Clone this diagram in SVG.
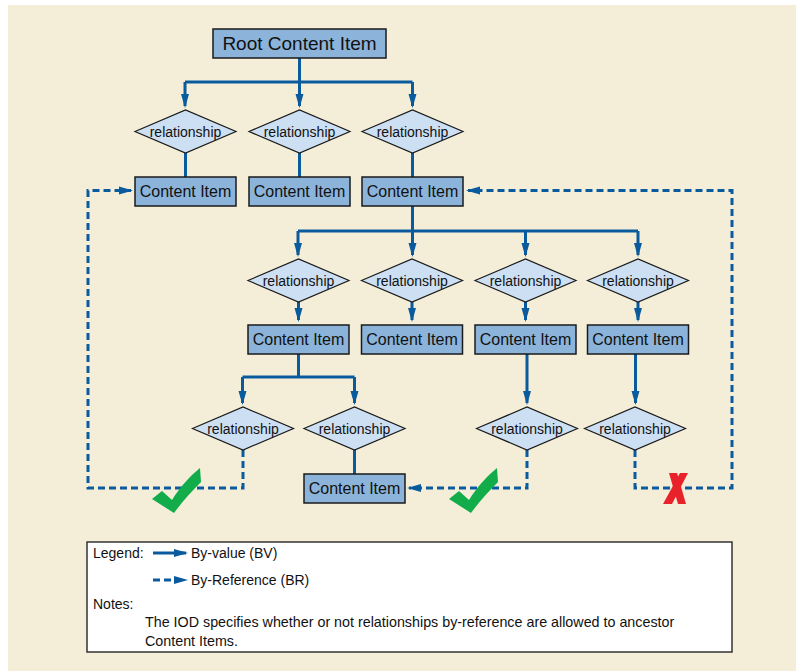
<svg xmlns="http://www.w3.org/2000/svg" width="796" height="671" viewBox="0 0 796 671">
<defs>
<style>
.bg{fill:#f4eed8}
.box{fill:#8cb4da;stroke:#1a1a1a;stroke-width:1.5}
.dia{fill:#cddff2;stroke:#1a1a1a;stroke-width:1.2}
.t{font-family:"Liberation Sans",Arial,sans-serif;fill:#111;text-anchor:middle}
.ci{font-size:16px}
.rel{font-size:14px}
.root{font-size:19px}
.lg{font-family:"Liberation Sans",Arial,sans-serif;fill:#111;font-size:14px}
.sol{fill:none;stroke:#0a5b9d;stroke-width:3}
.sola{fill:none;stroke:#0a5b9d;stroke-width:3;marker-end:url(#ah)}
.dsh{fill:none;stroke:#0a5b9d;stroke-width:3;stroke-dasharray:7 4;marker-end:url(#ah)}
.chk{fill:#12ad4a}
.xm{fill:#e8212a}
</style>
<marker id="ah" markerWidth="16" markerHeight="10" refX="12" refY="5" orient="auto" markerUnits="userSpaceOnUse">
<path d="M0,1 L14,5 L0,9 Z" fill="#0a5b9d"/>
</marker>
</defs>
<rect class="bg" x="8" y="5" width="788" height="666"/>

<g id="connectors">
<path class="sol" d="M299.5,58 V82 M185,82 H412.5"/>
<path class="sola" d="M185,82 V106"/>
<path class="sola" d="M299.5,82 V106"/>
<path class="sola" d="M412.5,82 V106"/>
<path class="sol" d="M185.5,153 V177 M299.5,153 V177 M412.5,153 V177"/>
<path class="sol" d="M412.5,206 V231 M298,231 H638"/>
<path class="sola" d="M298,231 V255"/>
<path class="sola" d="M412.5,231 V255"/>
<path class="sola" d="M525.5,231 V255"/>
<path class="sola" d="M638,231 V255"/>
<path class="sola" d="M298.5,302 V320"/>
<path class="sola" d="M412,302 V320"/>
<path class="sola" d="M525.5,302 V320"/>
<path class="sola" d="M638,302 V320"/>
<path class="sol" d="M298.5,354 V377 M242.5,377 H354.5"/>
<path class="sola" d="M242.5,377 V403"/>
<path class="sola" d="M354.5,377 V403"/>
<path class="sola" d="M527,354 V403"/>
<path class="sola" d="M635.5,354 V403"/>
<path class="sol" d="M354.5,450 V474"/>
<path class="dsh" d="M243,450 V488 H88 V190.5 H131"/>
<path class="dsh" d="M527,450 V488 H409"/>
<path class="dsh" d="M635,450 V488 H732 V190.5 H468"/>
</g>

<g id="root"><rect class="box" x="213" y="29" width="173" height="29"/><text class="t root" x="299.5" y="50">Root Content Item</text></g>

<g id="rel1a"><polygon class="dia" points="135,131.5 185.5,110 236,131.5 185.5,153"/><text class="t rel" x="185.5" y="136.5">relationship</text></g>
<g id="rel1b"><polygon class="dia" points="249,131.5 299.5,110 350,131.5 299.5,153"/><text class="t rel" x="299.5" y="136.5">relationship</text></g>
<g id="rel1c"><polygon class="dia" points="362,131.5 412.5,110 463,131.5 412.5,153"/><text class="t rel" x="412.5" y="136.5">relationship</text></g>

<g id="ci1a"><rect class="box" x="135" y="177" width="101" height="29"/><text class="t ci" x="185.5" y="197">Content Item</text></g>
<g id="ci1b"><rect class="box" x="249" y="177" width="101" height="29"/><text class="t ci" x="299.5" y="197">Content Item</text></g>
<g id="ci1c"><rect class="box" x="362" y="177" width="101" height="29"/><text class="t ci" x="412.5" y="197">Content Item</text></g>

<g id="rel2a"><polygon class="dia" points="248,280.5 298.5,259 349,280.5 298.5,302"/><text class="t rel" x="298.5" y="285.5">relationship</text></g>
<g id="rel2b"><polygon class="dia" points="361.5,280.5 412,259 462.5,280.5 412,302"/><text class="t rel" x="412" y="285.5">relationship</text></g>
<g id="rel2c"><polygon class="dia" points="475,280.5 525.5,259 576,280.5 525.5,302"/><text class="t rel" x="525.5" y="285.5">relationship</text></g>
<g id="rel2d"><polygon class="dia" points="587.5,280.5 638,259 688.5,280.5 638,302"/><text class="t rel" x="638" y="285.5">relationship</text></g>

<g id="ci2a"><rect class="box" x="248" y="325" width="101" height="29"/><text class="t ci" x="298.5" y="345">Content Item</text></g>
<g id="ci2b"><rect class="box" x="361.5" y="325" width="101" height="29"/><text class="t ci" x="412" y="345">Content Item</text></g>
<g id="ci2c"><rect class="box" x="475" y="325" width="101" height="29"/><text class="t ci" x="525.5" y="345">Content Item</text></g>
<g id="ci2d"><rect class="box" x="587.5" y="325" width="101" height="29"/><text class="t ci" x="638" y="345">Content Item</text></g>

<g id="rel3a"><polygon class="dia" points="192.5,428.5 243,407 293.5,428.5 243,450"/><text class="t rel" x="243" y="433.5">relationship</text></g>
<g id="rel3b"><polygon class="dia" points="304,428.5 354.5,407 405,428.5 354.5,450"/><text class="t rel" x="354.5" y="433.5">relationship</text></g>
<g id="rel3c"><polygon class="dia" points="476.5,428.5 527,407 577.5,428.5 527,450"/><text class="t rel" x="527" y="433.5">relationship</text></g>
<g id="rel3d"><polygon class="dia" points="584.5,428.5 635,407 685.5,428.5 635,450"/><text class="t rel" x="635" y="433.5">relationship</text></g>

<g id="ci3"><rect class="box" x="304" y="474" width="101" height="29"/><text class="t ci" x="354.5" y="494">Content Item</text></g>

<g id="check1"><path class="chk" d="M152,499 L162,491 L172,500 C180,487 190,476 200,468 L201,482 C192,491 182,502 174,513 Z"/></g>
<g id="check2"><path class="chk" transform="translate(297,0)" d="M152,499 L162,491 L172,500 C180,487 190,476 200,468 L201,482 C192,491 182,502 174,513 Z"/></g>
<g id="cross">
<polygon class="xm" points="669,473 677,473 686,504 678,504"/>
<polygon class="xm" points="680,473 688,473 672,504 663,504"/>
</g>

<g id="legend">
<rect x="87" y="542" width="645" height="110" fill="#fff" stroke="#333" stroke-width="1.5"/>
<text class="lg" x="93" y="558">Legend:</text>
<path class="sola" d="M153,553 H186"/>
<text class="lg" x="191" y="558">By-value (BV)</text>
<path class="dsh" d="M153,580 H186"/>
<text class="lg" x="191" y="585">By-Reference (BR)</text>
<text class="lg" x="93" y="609">Notes:</text>
<text class="lg" x="145" y="627" style="font-size:14.3px">The IOD specifies whether or not relationships by-reference are allowed to ancestor</text>
<text class="lg" x="145" y="646" style="font-size:14.3px">Content Items.</text>
</g>
</svg>
